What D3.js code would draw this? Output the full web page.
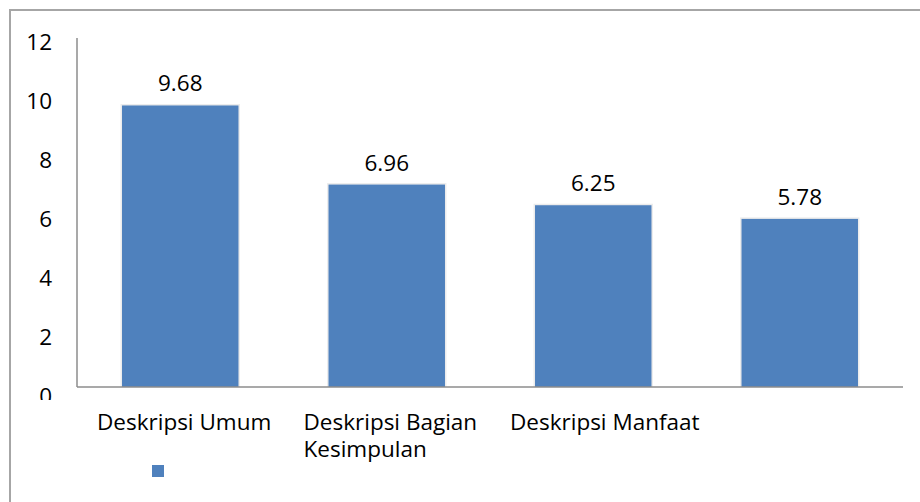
<!DOCTYPE html>
<html>
<head>
<meta charset="utf-8">
<script src="https://cdn.jsdelivr.net/npm/d3@7"></script>
<style>
  body { margin: 0; background: #fff; }
  text { font-family: "Open Sans", sans-serif; fill: #000; }
</style>
</head>
<body>
<div id="chart"></div>
<script>
const categories = ["Deskripsi Umum", "Deskripsi Bagian Kesimpulan", "Deskripsi Manfaat", ""]
const labelLines = [["Deskripsi Umum"], ["Deskripsi Bagian", "Kesimpulan"], ["Deskripsi Manfaat"], []]
const values = [9.68, 6.96, 6.25, 5.78]
const yTicks = [0, 2, 4, 6, 8, 10, 12]

const width = 920, height = 502
const margin = {top: 38, right: 17, bottom: 115, left: 77}

const svg = d3.select("#chart").append("svg")
    .attr("width", width)
    .attr("height", height)

// outer frame (only top and left edges show in the picture)
svg.append("path")
    .attr("d", `M10,${height}V10H${width}`)
    .attr("fill", "none")
    .attr("stroke", "#a6a6a6")
    .attr("stroke-width", 2)

const x = d3.scaleBand()
    .domain(d3.range(categories.length))
    .range([margin.left, width - margin.right])
    .paddingInner(0.436)
    .paddingOuter(0.218)

const y = d3.scaleLinear()
    .domain([0, 12])
    .range([height - margin.bottom, margin.top])

svg.append("defs").append("clipPath")
    .attr("id", "ylab")
  .append("rect")
    .attr("x", 0).attr("y", 0).attr("width", margin.left).attr("height", 400)

// y tick labels
svg.append("g")
    .attr("clip-path", "url(#ylab)")
  .selectAll("text")
  .data(yTicks)
  .join("text")
    .attr("x", 52)
    .attr("y", d => y(d) + 4 + (12 - d) * 0.4)
    .attr("dy", "0.35em")
    .attr("text-anchor", "end")
    .attr("font-size", 22.5)
    .text(d => d)

// bars with a soft halo
const bars = svg.append("g")
  .selectAll("g")
  .data(values)
  .join("g")

bars.append("rect")
    .attr("x", (d, i) => x(i) - 1.5)
    .attr("y", d => y(d) - 1.5)
    .attr("width", x.bandwidth() + 3)
    .attr("height", d => y(0) - y(d) + 1.5)
    .attr("fill", "#ececec")

bars.append("rect")
    .attr("x", (d, i) => x(i))
    .attr("y", d => y(d))
    .attr("width", x.bandwidth())
    .attr("height", d => y(0) - y(d))
    .attr("fill", "#4f81bd")

bars.append("text")
    .attr("x", (d, i) => x(i) + x.bandwidth() / 2)
    .attr("y", d => y(d) - 14)
    .attr("text-anchor", "middle")
    .attr("font-size", 22.5)
    .text(d => d.toFixed(2))

// axes lines
svg.append("line")
    .attr("x1", margin.left).attr("x2", margin.left)
    .attr("y1", y(12)).attr("y2", y(0))
    .attr("stroke", "#8c8c8c").attr("stroke-width", 1.5)

svg.append("line")
    .attr("x1", margin.left).attr("x2", width - margin.right)
    .attr("y1", y(0)).attr("y2", y(0))
    .attr("stroke", "#8c8c8c").attr("stroke-width", 1.5)

// category labels, one text per wrapped line
const step = x.step()
const lines = labelLines.flatMap((ls, i) => ls.map((t, j) => ({i, j, t})))
svg.append("g")
  .selectAll("text")
  .data(lines)
  .join("text")
    .attr("x", d => margin.left + d.i * step + 20)
    .attr("y", d => 430 + d.j * 26.5)
    .attr("font-size", 22.5)
    .text(d => d.t)

// legend (swatch only, no series name)
svg.append("rect")
    .attr("x", 152).attr("y", 465)
    .attr("width", 12).attr("height", 12)
    .attr("fill", "#4f81bd")
</script>
</body>
</html>
